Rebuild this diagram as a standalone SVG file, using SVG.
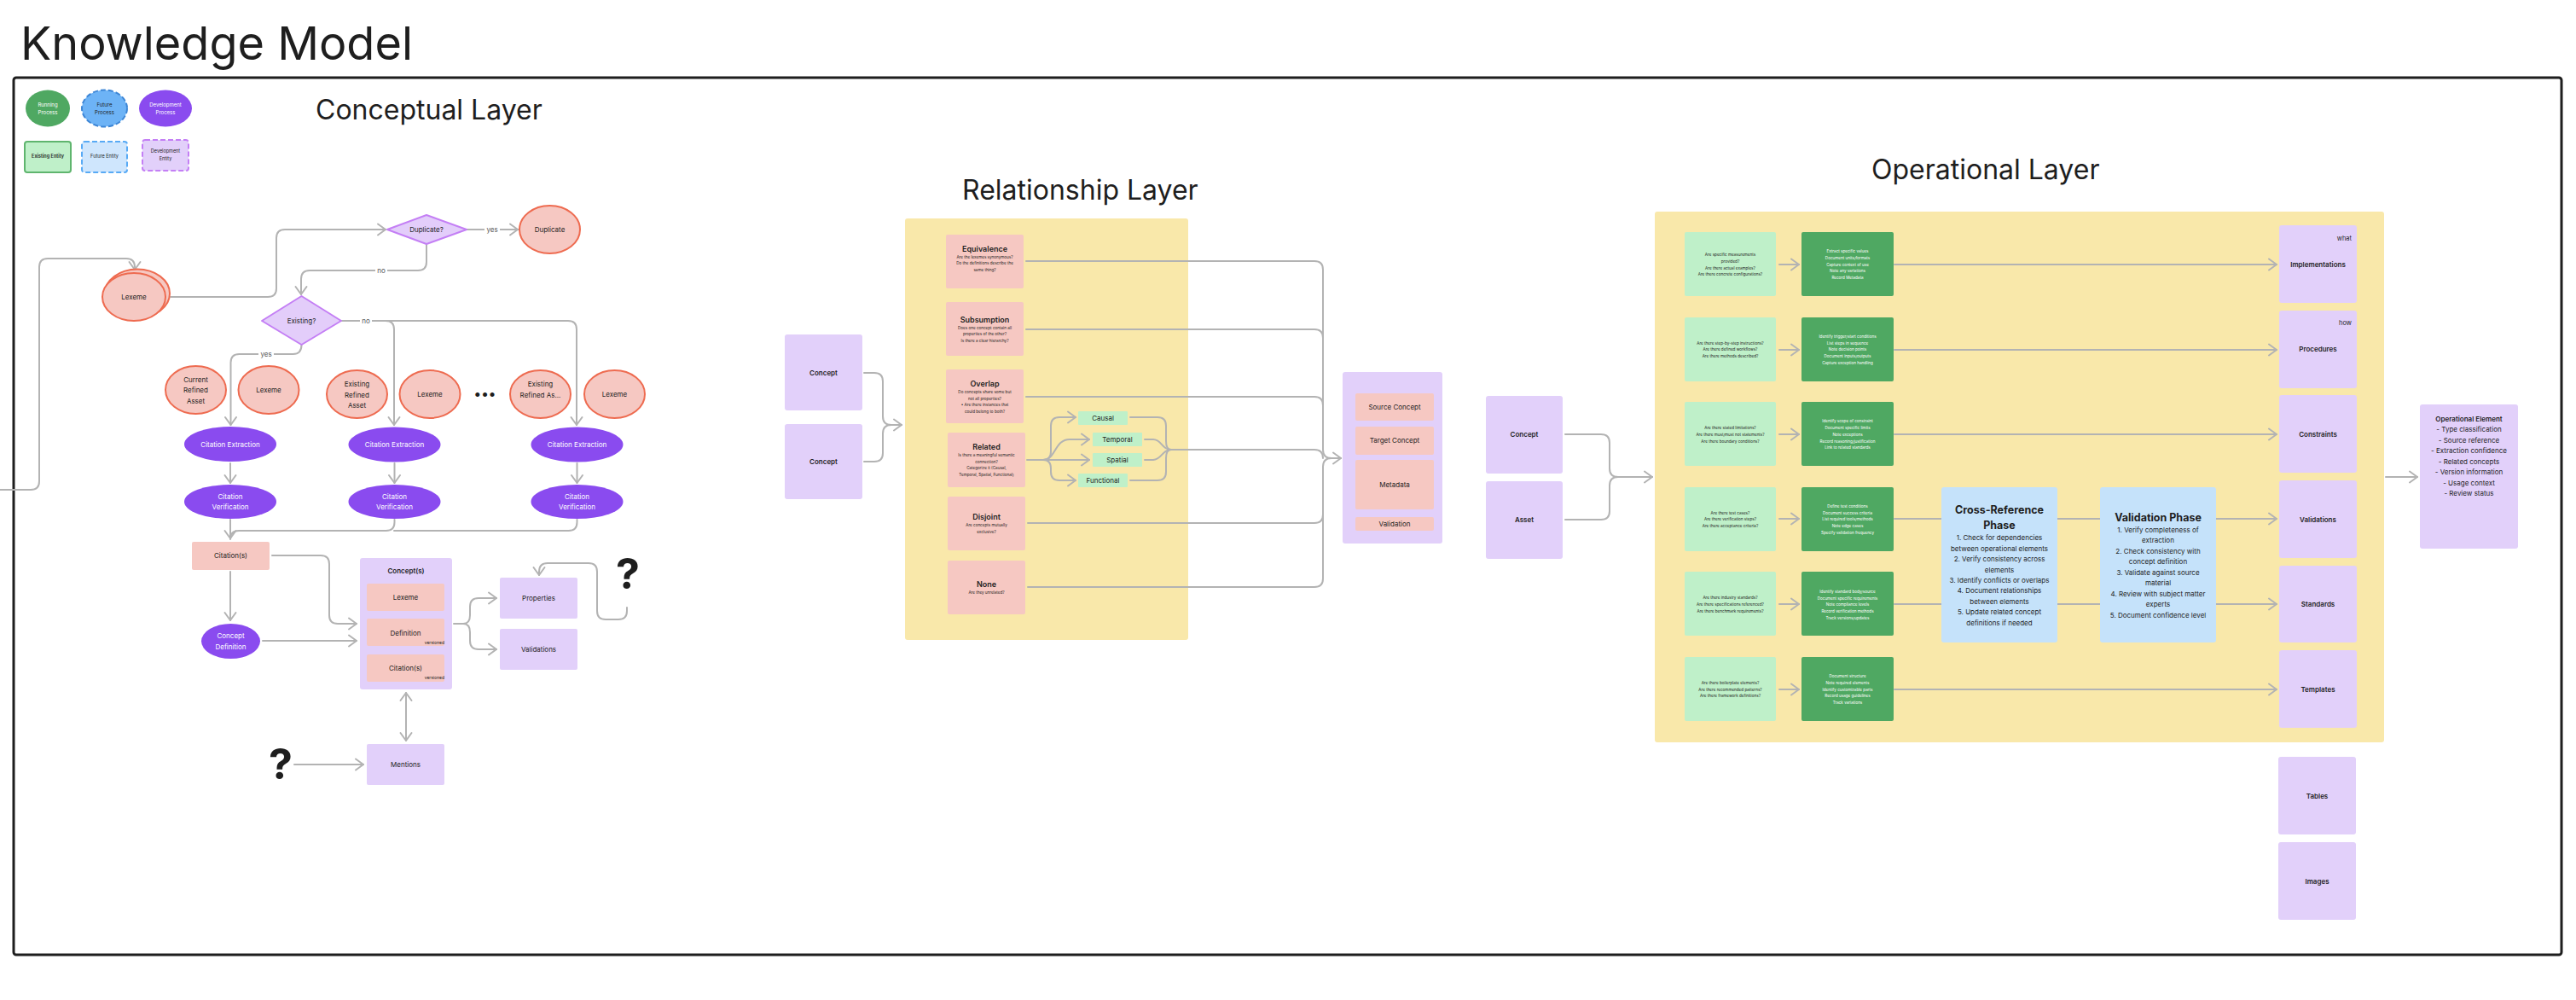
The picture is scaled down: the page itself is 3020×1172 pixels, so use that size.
<svg xmlns="http://www.w3.org/2000/svg" width="3020" height="1172" viewBox="0 0 3020 1172">
<style>
text{font-family:Inter,'Liberation Sans',sans-serif;fill:#1e1e1e;text-anchor:middle}
.conn{fill:none;stroke:#b3b3b3;stroke-width:2;stroke-linejoin:round;stroke-linecap:round}
.arr{marker-end:url(#ah)}
.pink{fill:#f6c8c2}
.pc{fill:#f6c8c2;stroke:#ee6b50;stroke-width:2}
.lp{fill:#e2d0fa}
.dev{fill:#8a4bef}
.yel{fill:#f9e8aa}
.lg{fill:#bff0c9}
.dg{fill:#4fa862}
.lb{fill:#c5e2fa}
.dia{fill:#e3cdfa;stroke:#c47ff5;stroke-width:2;stroke-linejoin:round}
.w{fill:#ffffff}
.s8{font-size:8px}
.s9{font-size:9px}
.b{font-weight:600}
.tiny{font-size:4.6px}
.wt{fill:#ffffff}
.sub{font-size:4.6px}
.ttl{font-size:32px;text-anchor:start}
.q{font-size:50px;font-weight:700;fill:#1e1e1e}
.lbl{font-size:8px;fill:#555}
</style>
<defs>
<marker id="ah" markerUnits="userSpaceOnUse" markerWidth="14" markerHeight="16" viewBox="0 0 14 16" refX="12" refY="8" orient="auto-start-reverse">
<path d="M3,1.5 L12,8 L3,14.5" fill="none" stroke="#b3b3b3" stroke-width="2" stroke-linejoin="round" stroke-linecap="round"/>
</marker>
</defs>
<rect width="3020" height="1172" fill="#ffffff"/>
<text x="24" y="70" style="font-size:54px;text-anchor:start">Knowledge Model</text>
<rect x="16" y="91" width="2987" height="1028" rx="3" fill="none" stroke="#1e1e1e" stroke-width="3"/>
<text class="ttl" x="370" y="140">Conceptual Layer</text>
<text class="ttl" x="1128" y="234">Relationship Layer</text>
<text class="ttl" x="2194" y="210">Operational Layer</text>

<!-- containers (drawn beneath connectors) -->
<g id="relationship-container"><rect x="1061" y="256" width="332" height="494" rx="3" class="yel"/></g>
<g id="operational-container"><rect x="1940" y="248" width="855" height="622" rx="3" class="yel"/></g>

<!-- legend -->
<g id="legend-running-process"><ellipse cx="56" cy="127" rx="26" ry="21.5" fill="#4fa862"/><text x="56" y="125" class="wt" style="font-size:6px">Running</text><text x="56" y="134" class="wt" style="font-size:6px">Process</text></g>
<g id="legend-future-process"><ellipse cx="122.5" cy="127" rx="26.5" ry="21.5" fill="#6db3f6" stroke="#3d86d6" stroke-width="2" stroke-dasharray="6 3"/><text x="122.5" y="125" style="font-size:6px">Future</text><text x="122.5" y="134" style="font-size:6px">Process</text></g>
<g id="legend-development-process"><ellipse cx="194" cy="127" rx="31" ry="21.5" class="dev"/><text x="194" y="125" class="wt" style="font-size:6px">Development</text><text x="194" y="134" class="wt" style="font-size:6px">Process</text></g>
<g id="legend-existing-entity"><rect x="29" y="166" width="54" height="36" rx="3" class="lg" stroke="#5fb56e" stroke-width="2"/><text x="56" y="185" class="b" style="font-size:5.5px">Existing Entity</text></g>
<g id="legend-future-entity"><rect x="96" y="166" width="53" height="36" rx="3" fill="#cfe6fd" stroke="#58aaf5" stroke-width="2" stroke-dasharray="6 3"/><text x="122.5" y="185" style="font-size:5.5px">Future Entity</text></g>
<g id="legend-development-entity"><rect x="167" y="164" width="54" height="36" rx="3" class="lp" stroke="#c47ff5" stroke-width="2" stroke-dasharray="6 3"/><text x="194" y="179" style="font-size:5.5px">Development</text><text x="194" y="188" style="font-size:5.5px">Entity</text></g>

<!-- connectors -->
<g id="connectors">
<path class="conn arr" d="M0,574 H36 q10,0 10,-10 V313 q0,-10 10,-10 H148 q10,0 10,10 V316"/>
<path class="conn arr" d="M200,348 H314 q10,0 10,-10 V279 q0,-10 10,-10 H452"/>
<path class="conn arr" d="M547,269 H607"/>
<path class="conn arr" d="M500,287 V307 q0,10 -10,10 H363 q-10,0 -10,10 V345"/>
<path class="conn arr" d="M400,376 H452 q10,0 10,10 V498"/>
<path class="conn arr" d="M400,376 H666 q10,0 10,10 V498"/>
<path class="conn arr" d="M353.5,404 q0,11 -10,11 H280.5 q-10,0 -10,10 V498"/>
<path class="conn arr" d="M270,543 V566"/>
<path class="conn arr" d="M462.5,543 V566"/>
<path class="conn arr" d="M676.5,543 V566"/>
<path class="conn arr" d="M270,609 V631"/>
<path class="conn" d="M462.5,609 V612 q0,10 -10,10 H280 q-10,0 -10,10"/>
<path class="conn" d="M676.5,609 V612 q0,10 -10,10 H462"/>
<path class="conn arr" d="M270,670 V727"/>
<path class="conn arr" d="M308,751 H418"/>
<path class="conn arr" d="M319,651 H376 q10,0 10,10 V721 q0,10 10,10 H418"/>
<path class="conn arr" d="M532,731 H543 q8,0 8,-10 V711 q0,-10 10,-10 H582"/>
<path class="conn arr" d="M543,731 q8,0 8,10 V751 q0,10 10,10 H582"/>
<path class="conn arr" d="M735,712 V716 q0,10 -10,10 H710 q-10,0 -10,-10 V670 q0,-10 -10,-10 H642 q-10,0 -10,10 V674"/>
<path class="conn arr" d="M476,812 V868" style="marker-start:url(#ah)"/>
<path class="conn arr" d="M345,896 H426"/>

<path class="conn arr" d="M1013,437 H1025 q10,0 10,10 V488 q0,10 10,10 H1057"/>
<path class="conn" d="M1013,541 H1025 q10,0 10,-10 V508 q0,-10 10,-10 H1057"/>
<path class="conn arr" d="M1203,306 H1541 q10,0 10,10 V527 q0,10 10,10 H1572"/>
<path class="conn" d="M1203,386 H1541 q10,0 10,10 V420"/>
<path class="conn" d="M1203,465 H1541 q10,0 10,10 V500"/>
<path class="conn" d="M1373,527 H1541 q10,0 10,10"/>
<path class="conn" d="M1205,613 H1541 q10,0 10,-10 V547 q0,-10 10,-10 H1572"/>
<path class="conn" d="M1205,688 H1541 q10,0 10,-10 V600"/>
<path class="conn arr" d="M1204,539 H1277"/>
<path class="conn arr" d="M1223,539 q9,0 9,-10 V499 q0,-10 10,-10 H1261"/>
<path class="conn arr" d="M1223,539 q9,0 9,10 V553 q0,10 10,10 H1261"/>
<path class="conn arr" d="M1223,539 C1238,539 1236,515 1254,515 H1277"/>
<path class="conn" d="M1325,489 H1357 q10,0 10,10 V517 q0,10 6,10"/>
<path class="conn" d="M1325,563 H1357 q10,0 10,-10 V537 q0,-10 6,-10"/>
<path class="conn" d="M1342,515 H1352 C1362,515 1362,527 1373,527"/>
<path class="conn" d="M1342,539 H1352 C1362,539 1362,527 1373,527"/>
<path class="conn arr" d="M1835,509 H1877 q10,0 10,10 V549 q0,10 10,10 H1937"/>
<path class="conn" d="M1835,609 H1877 q10,0 10,-10 V569 q0,-10 10,-10 H1937"/>

<path class="conn arr" d="M2086,310 H2109"/>
<path class="conn arr" d="M2086,410 H2109"/>
<path class="conn arr" d="M2086,509 H2109"/>
<path class="conn arr" d="M2086,608 H2109"/>
<path class="conn arr" d="M2086,708 H2109"/>
<path class="conn arr" d="M2086,808 H2109"/>
<path class="conn arr" d="M2221,310 H2669"/>
<path class="conn arr" d="M2221,410 H2669"/>
<path class="conn arr" d="M2221,509 H2669"/>
<path class="conn" d="M2221,608 H2276 M2412,608 H2462"/>
<path class="conn arr" d="M2598,608 H2669"/>
<path class="conn" d="M2221,708 H2276 M2412,708 H2462"/>
<path class="conn arr" d="M2598,708 H2669"/>
<path class="conn arr" d="M2221,808 H2669"/>
<path class="conn arr" d="M2797,559 H2834"/>
</g>

<!-- connector labels -->
<g id="connector-labels">
<rect x="568" y="262" width="18" height="13" class="w"/><text class="lbl" x="577" y="272">yes</text>
<rect x="440" y="310" width="14" height="13" class="w"/><text class="lbl" x="447" y="320">no</text>
<rect x="422" y="369" width="14" height="13" class="w"/><text class="lbl" x="429" y="379">no</text>
<rect x="303" y="408" width="18" height="13" class="w"/><text class="lbl" x="312" y="418">yes</text>
</g>

<!-- conceptual layer nodes -->
<g id="lexeme-input"><ellipse cx="161" cy="344" rx="38" ry="28.5" class="pc"/><ellipse cx="157" cy="348" rx="37" ry="28" class="pc"/><text class="s8" x="157" y="351">Lexeme</text></g>
<g id="duplicate-q"><polygon points="454,269 500,252 547,269 500,286" class="dia"/><text class="s8" x="500" y="272">Duplicate?</text></g>
<g id="duplicate"><ellipse cx="644.5" cy="269" rx="35.5" ry="28" class="pc"/><text class="s8" x="644.5" y="272">Duplicate</text></g>
<g id="existing-q"><polygon points="307,376 353.5,347 400,376 353.5,404" class="dia"/><text class="s8" x="353.5" y="379">Existing?</text></g>
<g id="current-refined-asset"><ellipse cx="229.5" cy="457" rx="35.5" ry="28" class="pc"/><text class="s8" x="229.5" y="448">Current</text><text class="s8" x="229.5" y="460">Refined</text><text class="s8" x="229.5" y="473">Asset</text></g>
<g id="lexeme-1"><ellipse cx="315" cy="457" rx="35.5" ry="28" class="pc"/><text class="s8" x="315" y="460">Lexeme</text></g>
<g id="existing-refined-asset"><ellipse cx="418.5" cy="462" rx="35.5" ry="28" class="pc"/><text class="s8" x="418.5" y="453">Existing</text><text class="s8" x="418.5" y="466">Refined</text><text class="s8" x="418.5" y="478">Asset</text></g>
<g id="lexeme-2"><ellipse cx="504" cy="462" rx="35.5" ry="28" class="pc"/><text class="s8" x="504" y="465">Lexeme</text></g>
<text x="569" y="467" style="font-size:16px;font-weight:700;letter-spacing:1px">•••</text>
<g id="existing-refined-as"><ellipse cx="633.5" cy="462" rx="35.5" ry="28" class="pc"/><text class="s8" x="633.5" y="453">Existing</text><text class="s8" x="633.5" y="466">Refined As...</text></g>
<g id="lexeme-3"><ellipse cx="720.5" cy="462" rx="35.5" ry="28" class="pc"/><text class="s8" x="720.5" y="465">Lexeme</text></g>
<g id="citation-extraction-1"><ellipse cx="270" cy="520.5" rx="54" ry="20.5" class="dev"/><text class="s8 wt" x="270" y="523.5">Citation Extraction</text></g>
<g id="citation-extraction-2"><ellipse cx="462.5" cy="521" rx="54" ry="20.5" class="dev"/><text class="s8 wt" x="462.5" y="524">Citation Extraction</text></g>
<g id="citation-extraction-3"><ellipse cx="676.5" cy="521" rx="54" ry="20.5" class="dev"/><text class="s8 wt" x="676.5" y="524">Citation Extraction</text></g>
<g id="citation-verification-1"><ellipse cx="270" cy="588" rx="54" ry="20" class="dev"/><text class="s8 wt" x="270" y="585">Citation</text><text class="s8 wt" x="270" y="597">Verification</text></g>
<g id="citation-verification-2"><ellipse cx="462.5" cy="588" rx="54" ry="20" class="dev"/><text class="s8 wt" x="462.5" y="585">Citation</text><text class="s8 wt" x="462.5" y="597">Verification</text></g>
<g id="citation-verification-3"><ellipse cx="676.5" cy="588" rx="54" ry="20" class="dev"/><text class="s8 wt" x="676.5" y="585">Citation</text><text class="s8 wt" x="676.5" y="597">Verification</text></g>
<g id="citations"><rect x="225" y="635" width="91" height="33" rx="2" class="pink"/><text class="s8" x="270.5" y="654">Citation(s)</text></g>
<g id="concept-definition"><ellipse cx="270.5" cy="751.5" rx="34.5" ry="20.5" class="dev"/><text class="s8 wt" x="270.5" y="748">Concept</text><text class="s8 wt" x="270.5" y="761">Definition</text></g>
<g id="concepts"><rect x="422" y="654" width="108" height="154" rx="3" class="lp"/><text class="s8 b" x="476" y="672">Concept(s)</text>
<rect x="430" y="684" width="91" height="32" rx="2" class="pink"/><text class="s8" x="475.5" y="703">Lexeme</text>
<rect x="430" y="725" width="91" height="32" rx="2" class="pink"/><text class="s8" x="475.5" y="745">Definition</text><text x="521" y="755" style="font-size:5px;text-anchor:end">versioned</text>
<rect x="430" y="767" width="91" height="32" rx="2" class="pink"/><text class="s8" x="475.5" y="786">Citation(s)</text><text x="521" y="796" style="font-size:5px;text-anchor:end">versioned</text></g>
<g id="properties"><rect x="586" y="677" width="91" height="48" rx="2" class="lp"/><text class="s8" x="631.5" y="704">Properties</text></g>
<g id="validations-c"><rect x="586" y="737" width="91" height="48" rx="2" class="lp"/><text class="s8" x="631.5" y="764">Validations</text></g>
<g id="mentions"><rect x="430" y="872" width="91" height="48" rx="2" class="lp"/><text class="s8" x="475.5" y="899">Mentions</text></g>
<text class="q" x="736" y="690">?</text>
<text class="q" x="329" y="913">?</text>

<!-- relationship layer -->
<g id="rel-concept-1"><rect x="920" y="392" width="91" height="89" rx="3" class="lp"/><text class="s8 b" x="965.5" y="440">Concept</text></g>
<g id="rel-concept-2"><rect x="920" y="497" width="91" height="88" rx="3" class="lp"/><text class="s8 b" x="965.5" y="544">Concept</text></g>
<g id="equivalence"><rect x="1109" y="275" width="91" height="63" rx="2" class="pink"/><text class="s9 b" x="1154.5" y="295">Equivalence</text><text class="sub" x="1154.5" y="302.5">Are the lexemes synonymous?</text><text class="sub" x="1154.5" y="309.5">Do the definitions describe the</text><text class="sub" x="1154.5" y="317.5">same thing?</text></g>
<g id="subsumption"><rect x="1109" y="354" width="91" height="63" rx="2" class="pink"/><text class="s9 b" x="1154.5" y="378">Subsumption</text><text class="sub" x="1154.5" y="385.5">Does one concept contain all</text><text class="sub" x="1154.5" y="392.5">properties of the other?</text><text class="sub" x="1154.5" y="400.5">Is there a clear hierarchy?</text></g>
<g id="overlap"><rect x="1109" y="433" width="91" height="63" rx="2" class="pink"/><text class="s9 b" x="1154.5" y="453">Overlap</text><text class="sub" x="1154.5" y="460.5">Do concepts share some but</text><text class="sub" x="1154.5" y="468.5">not all properties?</text><text class="sub" x="1154.5" y="475.5">• Are there instances that</text><text class="sub" x="1154.5" y="483.5">could belong to both?</text></g>
<g id="related"><rect x="1111" y="507" width="91" height="64" rx="2" class="pink"/><text class="s9 b" x="1156.5" y="527">Related</text><text class="sub" x="1156.5" y="534.5">Is there a meaningful semantic</text><text class="sub" x="1156.5" y="542.5">connection?</text><text class="sub" x="1156.5" y="549.5">Categorize it (Causal,</text><text class="sub" x="1156.5" y="557.5">Temporal, Spatial, Functional)</text></g>
<g id="disjoint"><rect x="1111" y="582" width="91" height="63" rx="2" class="pink"/><text class="s9 b" x="1156.5" y="609">Disjoint</text><text class="sub" x="1156.5" y="616.5">Are concepts mutually</text><text class="sub" x="1156.5" y="624.5">exclusive?</text></g>
<g id="none"><rect x="1111" y="657" width="91" height="63" rx="2" class="pink"/><text class="s9 b" x="1156.5" y="688">None</text><text class="sub" x="1156.5" y="695.5">Are they unrelated?</text></g>
<g id="causal"><rect x="1264" y="482" width="58" height="16" rx="1" class="lg"/><text class="s8" x="1293" y="493">Causal</text></g>
<g id="temporal"><rect x="1281" y="507" width="58" height="16" rx="1" class="lg"/><text class="s8" x="1310" y="518">Temporal</text></g>
<g id="spatial"><rect x="1281" y="531" width="58" height="16" rx="1" class="lg"/><text class="s8" x="1310" y="542">Spatial</text></g>
<g id="functional"><rect x="1264" y="555" width="58" height="16" rx="1" class="lg"/><text class="s8" x="1293" y="566">Functional</text></g>
<g id="relationship-record"><rect x="1574" y="436" width="117" height="201" rx="3" class="lp"/>
<rect x="1589" y="461" width="92" height="32" rx="2" class="pink"/><text class="s8" x="1635" y="480">Source Concept</text>
<rect x="1589" y="500" width="92" height="33" rx="2" class="pink"/><text class="s8" x="1635" y="519">Target Concept</text>
<rect x="1589" y="539" width="92" height="58" rx="2" class="pink"/><text class="s8" x="1635" y="571">Metadata</text>
<rect x="1589" y="606" width="92" height="16" rx="2" class="pink"/><text class="s8" x="1635" y="617">Validation</text></g>

<!-- operational layer -->
<g id="op-concept"><rect x="1742" y="464" width="90" height="91" rx="3" class="lp"/><text class="s8 b" x="1787" y="512">Concept</text></g>
<g id="op-asset"><rect x="1742" y="564" width="90" height="91" rx="3" class="lp"/><text class="s8 b" x="1787" y="612">Asset</text></g>

<g id="q-implementations"><rect x="1975" y="272" width="107" height="75" rx="2" class="lg"/><text class="tiny" x="2028.5" y="299.5">Are specific measurements</text><text class="tiny" x="2028.5" y="307.5">provided?</text><text class="tiny" x="2028.5" y="315.5">Are there actual examples?</text><text class="tiny" x="2028.5" y="322.5">Are there concrete configurations?</text></g>
<g id="a-implementations"><rect x="2112" y="272" width="108" height="75" rx="2" class="dg"/><text class="tiny wt" x="2166" y="295.5">Extract specific values</text><text class="tiny wt" x="2166" y="303.5">Document units/formats</text><text class="tiny wt" x="2166" y="311.5">Capture context of use</text><text class="tiny wt" x="2166" y="318.5">Note any variations</text><text class="tiny wt" x="2166" y="326.5">Record Metadata</text></g>

<g id="q-procedures"><rect x="1975" y="372" width="107" height="75" rx="2" class="lg"/><text class="tiny" x="2028.5" y="403.5">Are there step-by-step instructions?</text><text class="tiny" x="2028.5" y="410.5">Are there defined workflows?</text><text class="tiny" x="2028.5" y="418.5">Are there methods described?</text></g>
<g id="a-procedures"><rect x="2112" y="372" width="108" height="75" rx="2" class="dg"/><text class="tiny wt" x="2166" y="395.5">Identify trigger/start conditions</text><text class="tiny wt" x="2166" y="403.5">List steps in sequence</text><text class="tiny wt" x="2166" y="410.5">Note decision points</text><text class="tiny wt" x="2166" y="418.5">Document inputs/outputs</text><text class="tiny wt" x="2166" y="426.5">Capture exception handling</text></g>

<g id="q-constraints"><rect x="1975" y="471" width="107" height="75" rx="2" class="lg"/><text class="tiny" x="2028.5" y="502.5">Are there stated limitations?</text><text class="tiny" x="2028.5" y="510.5">Are there must/must not statements?</text><text class="tiny" x="2028.5" y="518.5">Are there boundary conditions?</text></g>
<g id="a-constraints"><rect x="2112" y="471" width="108" height="75" rx="2" class="dg"/><text class="tiny wt" x="2166" y="494.5">Identify scope of constraint</text><text class="tiny wt" x="2166" y="502.5">Document specific limits</text><text class="tiny wt" x="2166" y="510.5">Note exceptions</text><text class="tiny wt" x="2166" y="518.5">Record reasoning/justification</text><text class="tiny wt" x="2166" y="525.5">Link to related standards</text></g>

<g id="q-validations"><rect x="1975" y="571" width="107" height="75" rx="2" class="lg"/><text class="tiny" x="2028.5" y="602.5">Are there test cases?</text><text class="tiny" x="2028.5" y="609.5">Are there verification steps?</text><text class="tiny" x="2028.5" y="617.5">Are there acceptance criteria?</text></g>
<g id="a-validations"><rect x="2112" y="571" width="108" height="75" rx="2" class="dg"/><text class="tiny wt" x="2166" y="594.5">Define test conditions</text><text class="tiny wt" x="2166" y="602.5">Document success criteria</text><text class="tiny wt" x="2166" y="609.5">List required tools/methods</text><text class="tiny wt" x="2166" y="617.5">Note edge cases</text><text class="tiny wt" x="2166" y="625.5">Specify validation frequency</text></g>

<g id="q-standards"><rect x="1975" y="670" width="107" height="75" rx="2" class="lg"/><text class="tiny" x="2028.5" y="701.5">Are there industry standards?</text><text class="tiny" x="2028.5" y="709.5">Are there specifications referenced?</text><text class="tiny" x="2028.5" y="717.5">Are there benchmark requirements?</text></g>
<g id="a-standards"><rect x="2112" y="670" width="108" height="75" rx="2" class="dg"/><text class="tiny wt" x="2166" y="694.5">Identify standard body/source</text><text class="tiny wt" x="2166" y="702.5">Document specific requirements</text><text class="tiny wt" x="2166" y="709.5">Note compliance levels</text><text class="tiny wt" x="2166" y="717.5">Record verification methods</text><text class="tiny wt" x="2166" y="725.5">Track versions/updates</text></g>

<g id="q-templates"><rect x="1975" y="770" width="107" height="75" rx="2" class="lg"/><text class="tiny" x="2028.5" y="801.5">Are there boilerplate elements?</text><text class="tiny" x="2028.5" y="809.5">Are there recommended patterns?</text><text class="tiny" x="2028.5" y="816.5">Are there framework definitions?</text></g>
<g id="a-templates"><rect x="2112" y="770" width="108" height="75" rx="2" class="dg"/><text class="tiny wt" x="2166" y="793.5">Document structure</text><text class="tiny wt" x="2166" y="801.5">Note required elements</text><text class="tiny wt" x="2166" y="809.5">Identify customizable parts</text><text class="tiny wt" x="2166" y="816.5">Record usage guidelines</text><text class="tiny wt" x="2166" y="824.5">Track variations</text></g>

<g id="cross-reference-phase"><rect x="2276" y="571" width="136" height="182" rx="3" class="lb"/>
<text x="2344" y="602" style="font-size:12.5px;font-weight:700">Cross-Reference</text><text x="2344" y="620" style="font-size:12.5px;font-weight:700">Phase</text>
<text class="s8" x="2344" y="633">1. Check for dependencies</text><text class="s8" x="2344" y="646">between operational elements</text><text class="s8" x="2344" y="658">2. Verify consistency across</text><text class="s8" x="2344" y="671">elements</text><text class="s8" x="2344" y="683">3. Identify conflicts or overlaps</text><text class="s8" x="2344" y="695">4. Document relationships</text><text class="s8" x="2344" y="708">between elements</text><text class="s8" x="2344" y="720">5. Update related concept</text><text class="s8" x="2344" y="733">definitions if needed</text></g>
<g id="validation-phase"><rect x="2462" y="571" width="136" height="182" rx="3" class="lb"/>
<text x="2530" y="611" style="font-size:12.5px;font-weight:700">Validation Phase</text>
<text class="s8" x="2530" y="624">1. Verify completeness of</text><text class="s8" x="2530" y="636">extraction</text><text class="s8" x="2530" y="649">2. Check consistency with</text><text class="s8" x="2530" y="661">concept definition</text><text class="s8" x="2530" y="674">3. Validate against source</text><text class="s8" x="2530" y="686">material</text><text class="s8" x="2530" y="699">4. Review with subject matter</text><text class="s8" x="2530" y="711">experts</text><text class="s8" x="2530" y="724">5. Document confidence level</text></g>

<g id="implementations"><rect x="2672" y="264" width="91" height="91" rx="3" class="lp"/><text x="2757" y="282" style="font-size:7.5px;text-anchor:end">what</text><text class="s8 b" x="2717.5" y="313">Implementations</text></g>
<g id="procedures"><rect x="2672" y="364" width="91" height="91" rx="3" class="lp"/><text x="2757" y="381" style="font-size:7.5px;text-anchor:end">how</text><text class="s8 b" x="2717.5" y="412">Procedures</text></g>
<g id="constraints"><rect x="2672" y="463" width="91" height="91" rx="3" class="lp"/><text class="s8 b" x="2717.5" y="512">Constraints</text></g>
<g id="validations-o"><rect x="2672" y="563" width="91" height="91" rx="3" class="lp"/><text class="s8 b" x="2717.5" y="612">Validations</text></g>
<g id="standards"><rect x="2672" y="663" width="91" height="90" rx="3" class="lp"/><text class="s8 b" x="2717.5" y="711">Standards</text></g>
<g id="templates"><rect x="2672" y="762" width="91" height="91" rx="3" class="lp"/><text class="s8 b" x="2717.5" y="811">Templates</text></g>
<g id="tables"><rect x="2671" y="887" width="91" height="91" rx="3" class="lp"/><text class="s8 b" x="2716.5" y="936">Tables</text></g>
<g id="images"><rect x="2671" y="987" width="91" height="91" rx="3" class="lp"/><text class="s8 b" x="2716.5" y="1036">Images</text></g>
<g id="operational-element"><rect x="2837" y="474" width="115" height="169" rx="3" class="lp"/>
<text class="s8 b" x="2894.5" y="494">Operational Element</text>
<text class="s8" x="2894.5" y="506">- Type classification</text><text class="s8" x="2894.5" y="519">- Source reference</text><text class="s8" x="2894.5" y="531">- Extraction confidence</text><text class="s8" x="2894.5" y="544">- Related concepts</text><text class="s8" x="2894.5" y="556">- Version information</text><text class="s8" x="2894.5" y="569">- Usage context</text><text class="s8" x="2894.5" y="581">- Review status</text></g>
</svg>
